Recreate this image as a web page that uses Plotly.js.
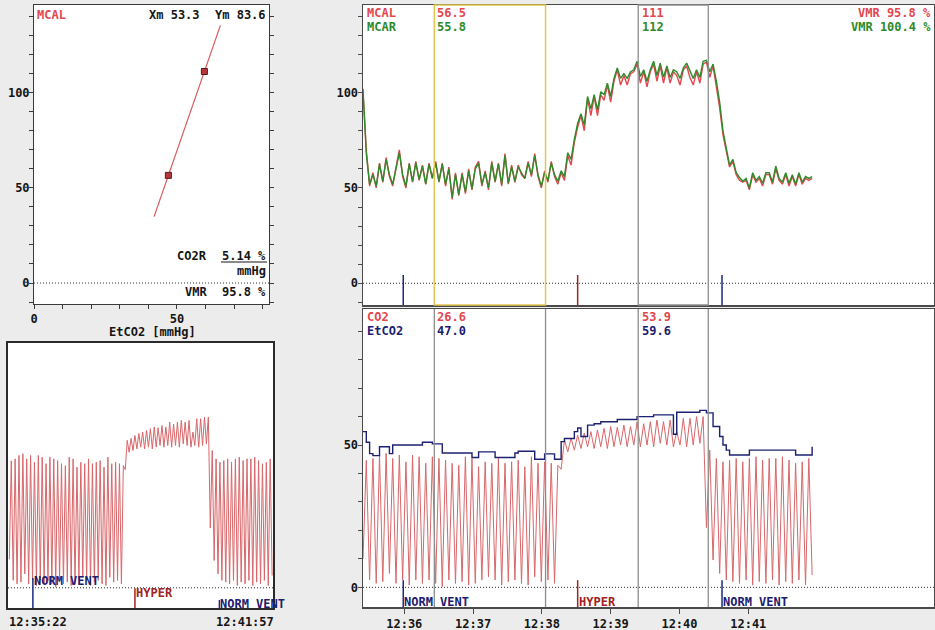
<!DOCTYPE html>
<html><head><meta charset="utf-8">
<script src="https://cdn.plot.ly/plotly-3.0.1.min.js"></script>
<style>html,body{margin:0;padding:0;background:#ececec;}#chart{width:935px;height:630px;}</style>
</head><body><div id="chart"></div>
<script>
// ---------------- DATA ----------------
// sampling: seconds after 12:35:00
const sampleStartSec = 24;
const sampleStepSec = 2.88;

const mcarValues = [102,68,52,57,51,62.5,53.5,65,57,52,
 60,68.5,57,51,62.5,53.5,63,54.5,61.5,52,
 62.5,55,63,53.5,62.5,52,60,45,57,46.5,
 57,48,59,49.5,60,63,52,58,50,63,
 53.5,62.5,52,67,52.5,61,53.5,61,58,55,
 63,57,67,57,51,58,54,63,57,53.5,
 59,56,68.5,65,75.5,84,89,83,98,91.5,
 99,91,100.5,99,105,98,107.5,113,107.5,110,
 107.5,111,112,116.5,108.5,112,106,112,116.5,109,
 115.5,108,114,108,112,111,107.5,113,115.5,111,
 107.5,112,108,116.5,117,111,115,106,95,80,
 71,62,65,58,55.5,53.5,55,50,58,54,
 56,52.5,58,58,53,61.5,55,53,58,52.5,
 57,52,58,53,56,55,56];

const mcalValues = [100,70,51,58,50,63,53,66,56,51,
 61,70,56,50,63,53,64,54,62,52,
 63,55,64,53,63,51,61,44,58,46,
 58,47,60,49,61,64,51,59,49,64,
 53,63,51,68,52,62,53,62,57,55,
 64,56,68,56,50,59,53,64,56,52,
 58,54,67,62,74,82,88,80,97,88,
 98,88,99,96,104,95,106,112,104,109,
 104,110,111,115,105,111,103,111,115,106,
 114,105,113,105,111,109,104,112,114,108,
 104,111,105,115,116,108,114,103,92,78,
 70,61,64,57,54,53,54,49,57,53,
 55,51,57,57,52,60,54,52,57,51,
 56,51,57,52,55,54,55];

const co2Values = [10,44.6,2.6,45.3,1.4,46.5,2.0,47.1,4.9,45.3,
 1.4,46.5,2.6,44.1,0.8,46.5,2.6,45.9,1.4,43.6,
 2.6,45.9,1.4,45.3,0.3,44.7,2.6,43.6,1.4,42.9,
 2.0,45.9,0.8,45.3,1.4,42.4,2.6,44.1,3.7,43.6,
 2.6,45.3,0.8,43.6,2.0,44.1,2.6,44.7,1.4,42.4,
 0.8,45.9,3.7,43.6,2.0,44.1,2.6,43.6,1.4,42.9,
 41.5,51.8,47.6,52.5,48.2,53.5,48.8,54.2,49.4,54.7,
 48.8,55.3,49.4,55.9,48.8,56.5,49.4,56.2,50.0,57.0,
 49.4,56.5,50.0,58.2,49.4,57.5,50.0,58.2,49.4,58.8,
 50.6,58.2,50.0,58.8,49.4,54.7,50.0,59.4,49.4,59.4,
 50.0,60.0,50.6,60.0,21,48.2,9.6,45.3,4.9,44.1,
 2.6,44.7,2.0,45.3,1.4,44.1,2.6,45.3,0.8,45.9,
 2.0,44.7,1.4,45.3,2.6,45.3,0.8,45.9,2.0,44.7,
 1.4,43.6,2.6,44.1,0.8,45.3,4.3];

const etco2Values = [54.7,51,47,46.3,46.3,49.4,49.4,49.4,47,50,
 50,50,50,50,50,50,50,50,51,51,
 51,50.4,50.4,50.4,47.2,47.2,47.2,47.2,47.2,47.2,
 47.2,47.2,47.2,45.6,45.6,47.6,47.6,47.6,47.6,47.6,
 45.6,45.6,45.6,45.6,45.6,45.6,47.2,47.8,47.8,47.8,
 47.8,47.8,45,45,45,46.9,46.9,46.9,45,45,
 51.2,52.3,52.3,52.3,54.7,56,53,53,57,57,
 57.5,57.5,58.2,58.2,58.2,58.2,58.2,59,59,59,
 59,59,59,60,60,60,60,60,60.6,60.6,
 60.6,60.6,60.6,60.6,53.8,61.5,61.5,61.5,61.5,61.5,
 61.5,61.5,62.2,62.2,61.3,61.3,56.5,56.5,53,50,
 48.2,46.5,46.5,46.5,46.5,46.5,46.5,48.2,48.2,48.2,
 48.2,48.2,48.2,48.2,48.2,48.2,48.2,48.2,48.2,48.2,
 48.2,46.5,46.5,46.5,46.5,46.5,49.4];

// regression (window averages)
const regEtco2 = [47.0, 59.6];
const regMcal = [56.5, 111];
const fitRangeX = [42, 65.2];
const xmValue = '53.3', ymValue = '83.6', co2rValue = '5.14', vmrTL = '95.8';
const vmrLeft = '95.8', vmrRight = '100.4';
const win1 = {mcal:'56.5', mcar:'55.8', co2:'26.6', etco2:'47.0'};
const win2 = {mcal:'111', mcar:'112', co2:'53.9', etco2:'59.6'};
// cursor windows (seconds after 12:35:00)
const cursorSec = [86.2, 183.2, 264, 325.1];
// events
const eventSec = [59.1, 211.2, 337.1];
const eventLabels = ['NORM VENT', 'HYPER', 'NORM VENT'];
// axis spans (seconds after 12:35:00)
const overviewSpan = [22, 417];
const trendSpan = [24, 521.96];
const overviewLabels = ['12:35:22', '12:41:57'];
const timeTickSec = [60, 120, 180, 240, 300, 360];
const timeTickLabels = ['12:36', '12:37', '12:38', '12:39', '12:40', '12:41'];

// ---------------- HELPERS ----------------
const W = 935, H = 630;
const px = x => x / W;
const py = y => 1 - y / H;
function clock(sec) {
  const total = Math.round((12*3600 + 35*60 + sec) * 1000);
  const ms = total % 1000;
  const s = Math.floor(total / 1000);
  const p = (n, w=2) => String(n).padStart(w, '0');
  return '2024-01-01 ' + p(Math.floor(s/3600)) + ':' + p(Math.floor(s%3600/60)) + ':' + p(s%60) + '.' + p(ms,3);
}
const sampleTimes = arr => arr.map((_, i) => clock(sampleStartSec + i * sampleStepSec));

const RED = '#e2474d', GREEN = '#2e8a2a', NAVY = '#1b2070', HYP = '#a32222', BLK = '#151515';
const FONT = 'DejaVu Sans Mono, Liberation Mono, monospace';
const fnt = (color, size=12) => ({family: FONT, size, color, weight: 'bold'});

const slope = (regMcal[1]-regMcal[0])/(regEtco2[1]-regEtco2[0]);
const fitY = fitRangeX.map(x => regMcal[0] + slope*(x - regEtco2[0]));

// ---------------- TRACES ----------------
const traces = [
  {x: fitRangeX, y: fitY, xaxis:'x', yaxis:'y', mode:'lines', line:{color:'#d9585a', width:1.2}},
  {x: regEtco2, y: regMcal, xaxis:'x', yaxis:'y', mode:'markers',
   marker:{symbol:'square', size:6, color:'#b8383a', line:{color:'#5a1818', width:1}}},
  {x: sampleTimes(co2Values), y: co2Values, xaxis:'x2', yaxis:'y2', mode:'lines', line:{color:'#d8676a', width:1}},
  {x: sampleTimes(mcalValues), y: mcalValues, xaxis:'x3', yaxis:'y3', mode:'lines', line:{color:RED, width:1.4}},
  {x: sampleTimes(mcarValues), y: mcarValues, xaxis:'x3', yaxis:'y3', mode:'lines', line:{color:GREEN, width:1.4}},
  {x: sampleTimes(co2Values), y: co2Values, xaxis:'x4', yaxis:'y4', mode:'lines', line:{color:'#d8676a', width:1}},
  {x: sampleTimes(etco2Values), y: etco2Values, xaxis:'x4', yaxis:'y4', mode:'lines', line:{color:NAVY, width:1.4, shape:'hv'}}
];

// ---------------- AXES ----------------
const tickRange = (a, b, s) => { const r=[]; for (let v=a; v<=b; v+=s) r.push(v); return r; };
const labelEvery50 = vals => vals.map(v => (v >= 0 && v % 50 === 0) ? String(v) : '');
const frame = (color, width) => ({showline:true, linecolor:color, linewidth:width, mirror:true, showgrid:false, zeroline:false});

const tlX = tickRange(0, 80, 10);
const tlY = tickRange(-10, 140, 10);
const trY = tickRange(-10, 140, 10);
const brY = tickRange(0, 90, 10);

const layout = {
  width: W, height: H, margin:{l:0, r:0, t:0, b:0},
  paper_bgcolor:'#ececec', plot_bgcolor:'#ffffff', showlegend:false,
  font: fnt(BLK),
  xaxis: Object.assign(frame('#3a3a3a',1), {domain:[px(34),px(269)], range:[0,82.2], anchor:'y',
    tickmode:'array', tickvals:tlX, ticktext:labelEvery50(tlX), ticks:'outside', ticklen:4, tickcolor:'#3a3a3a', tickfont:fnt(BLK)}),
  yaxis: Object.assign(frame('#3a3a3a',1), {domain:[py(304),py(5)], range:[-11,145.9], anchor:'x', mirror:'ticks',
    tickmode:'array', tickvals:tlY, ticktext:labelEvery50(tlY), ticks:'outside', ticklen:4, tickcolor:'#3a3a3a',
    tickfont:fnt(BLK), ticklabelstandoff:-3}),
  xaxis2: Object.assign(frame('#2a2a2a',2), {domain:[px(8),px(273)], type:'date', range:[clock(overviewSpan[0]), clock(overviewSpan[1])],
    anchor:'y2', showticklabels:false, ticks:''}),
  yaxis2: Object.assign(frame('#2a2a2a',2), {domain:[py(608),py(343)], range:[-7.1,86], anchor:'x2', showticklabels:false, ticks:''}),
  xaxis3: Object.assign(frame('#4a4a4a',1.5), {domain:[px(363),px(934)], type:'date', range:[clock(trendSpan[0]), clock(trendSpan[1])],
    anchor:'y3', showticklabels:false, ticks:''}),
  yaxis3: Object.assign(frame('#4a4a4a',1.5), {domain:[py(305),py(5)], range:[-11.4,146], anchor:'x3', mirror:'ticks',
    tickmode:'array', tickvals:trY, ticktext:labelEvery50(trY), ticks:'outside', ticklen:4, tickcolor:'#4a4a4a',
    tickfont:fnt(BLK), ticklabelstandoff:-3}),
  xaxis4: Object.assign(frame('#4a4a4a',1.5), {domain:[px(363),px(934)], type:'date', range:[clock(trendSpan[0]), clock(trendSpan[1])],
    anchor:'y4', tickmode:'array', tickvals:timeTickSec.map(clock), ticktext:timeTickLabels,
    ticks:'outside', ticklen:5, tickcolor:'#4a4a4a', tickfont:fnt(BLK)}),
  yaxis4: Object.assign(frame('#4a4a4a',1.5), {domain:[py(607),py(309)], range:[-6.9,97.8], anchor:'x4', mirror:'ticks',
    tickmode:'array', tickvals:brY, ticktext:labelEvery50(brY), ticks:'outside', ticklen:4, tickcolor:'#4a4a4a',
    tickfont:fnt(BLK), ticklabelstandoff:-3})
};

// ---------------- SHAPES ----------------
const dotted = {color:'#333', width:1, dash:'1px,2px'};
const shapes = [];
[['x','y'],['x2','y2'],['x3','y3'],['x4','y4']].forEach(([xa,ya]) => {
  shapes.push({type:'line', xref:xa+' domain', yref:ya, x0:0, x1:1, y0:0, y1:0, line:dotted, layer:'below'});
});
// cursor windows
shapes.push({type:'rect', xref:'x3', yref:'y3 domain', x0:clock(cursorSec[0]), x1:clock(cursorSec[1]), y0:0, y1:1,
  line:{color:'#e3c650', width:1.5}, layer:'above'});
shapes.push({type:'rect', xref:'x3', yref:'y3 domain', x0:clock(cursorSec[2]), x1:clock(cursorSec[3]), y0:0, y1:1,
  line:{color:'#8e8e8e', width:1.3}, layer:'above'});
cursorSec.forEach(s => shapes.push({type:'line', xref:'x4', yref:'y4 domain', x0:clock(s), x1:clock(s), y0:0, y1:1,
  line:{color:'#8e8e8e', width:1.3}}));
// event markers
const evColor = ['#1b2a80', HYP, '#1b2a80'];
const evTxtColor = [NAVY, HYP, NAVY];
eventSec.forEach((s, k) => {
  shapes.push({type:'line', xref:'x3', yref:'y3 domain', x0:clock(s), x1:clock(s), y0:0, y1:0.1, line:{color:evColor[k], width:1.5}});
  shapes.push({type:'line', xref:'x4', yref:'y4 domain', x0:clock(s), x1:clock(s), y0:0, y1:0.09, line:{color:evColor[k], width:1.5}});
});
const leftEvTop = [0.113, 0.075, 0.03];
eventSec.forEach((s, k) => {
  shapes.push({type:'line', xref:'x2', yref:'y2 domain', x0:clock(s), x1:clock(s), y0:0, y1:leftEvTop[k], line:{color:evColor[k], width:1.5}});
});
// underline for CO2R
shapes.push({type:'line', xref:'paper', yref:'paper', x0:px(221), x1:px(267), y0:py(262), y1:py(262), line:{color:BLK, width:1}});
layout.shapes = shapes;

// ---------------- ANNOTATIONS ----------------
const A = (text, x, y, color, xanchor='left') => ({text, x:px(x), y:py(y), xref:'paper', yref:'paper',
  xanchor, yanchor:'middle', showarrow:false, font:fnt(color), borderpad:0});
const r1 = 12.8, r2 = 27.0, b1 = 317.0, b2 = 331.2;
const ann = [
  A('MCAL', 36, 15, RED),
  A('Xm ' + xmValue, 201, 15, BLK, 'right'),
  A('Ym ' + ymValue, 267, 15, BLK, 'right'),
  A('CO2R', 208, 255.5, BLK, 'right'),
  A(co2rValue + ' %', 267, 255.5, BLK, 'right'),
  A('mmHg', 267, 270.5, BLK, 'right'),
  A('VMR', 208, 292, BLK, 'right'),
  A(vmrTL + ' %', 267, 292, BLK, 'right'),
  A('EtCO2 [mmHg]', 152, 332, BLK, 'center'),
  A('MCAL', 366, r1, RED), A('MCAR', 366, r2, GREEN),
  A(win1.mcal, 436, r1, RED), A(win1.mcar, 436, r2, GREEN),
  A(win2.mcal, 641, r1, RED), A(win2.mcar, 641, r2, GREEN),
  A('VMR ' + vmrLeft + ' %', 932, r1, RED, 'right'), A('VMR ' + vmrRight + ' %', 932, r2, GREEN, 'right'),
  A('CO2', 366, b1, RED), A('EtCO2', 366, b2, NAVY),
  A(win1.co2, 436, b1, RED), A(win1.etco2, 436, b2, NAVY),
  A(win2.co2, 641, b1, RED), A(win2.etco2, 641, b2, NAVY),
  A(overviewLabels[0], 8, 621.7, BLK), A(overviewLabels[1], 275, 621.7, BLK, 'right')
];
eventSec.forEach((s, k) => {
  ann.push({text:eventLabels[k], x:clock(s), xref:'x4', y:py(602), yref:'paper', xanchor:'left', yanchor:'middle',
    showarrow:false, font:fnt(evTxtColor[k]), borderpad:0});
});
const leftEvY = [581, 593, 604];
eventSec.forEach((s, k) => {
  ann.push({text:eventLabels[k], x:clock(s), xref:'x2', y:py(leftEvY[k]), yref:'paper', xanchor:'left', yanchor:'middle',
    showarrow:false, font:fnt(evTxtColor[k]), borderpad:0});
});
layout.annotations = ann;

Plotly.newPlot('chart', traces, layout, {staticPlot:true, displayModeBar:false});
</script></body></html>
